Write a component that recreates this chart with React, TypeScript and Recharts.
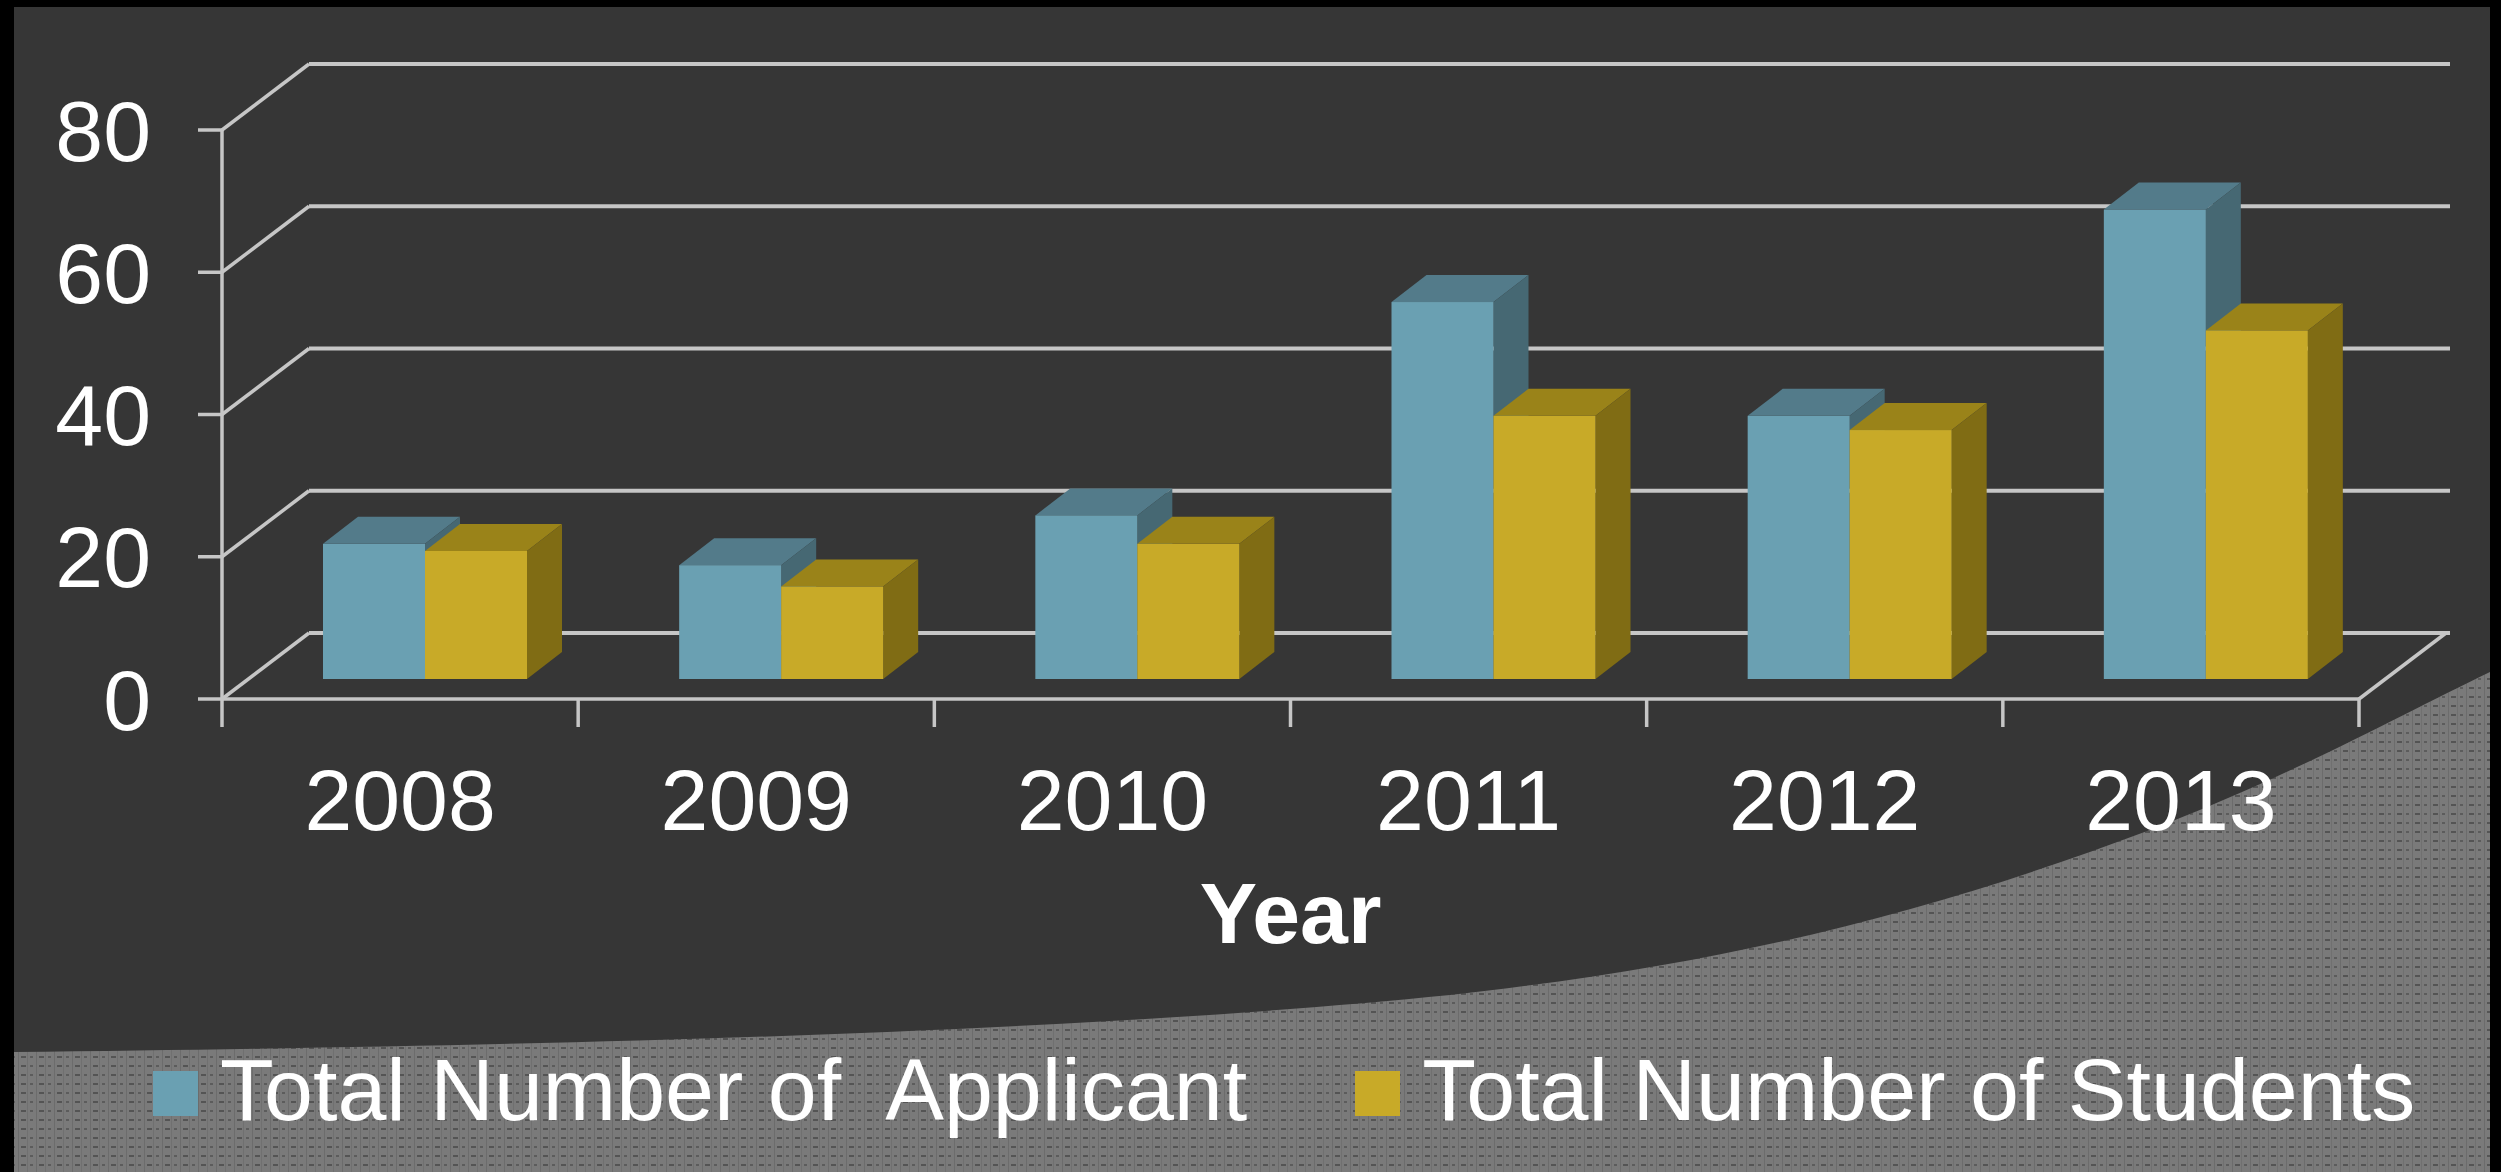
import React from 'react';
import { BarChart, Bar, XAxis, YAxis, CartesianGrid, Legend } from 'recharts';

// ---- data ----
const years = ['2008', '2009', '2010', '2011', '2012', '2013'];
const applicants = [19, 16, 23, 53, 37, 66];
const students = [18, 13, 19, 37, 35, 49];
const yTicks = [0, 20, 40, 60, 80];
const seriesNames = ['Total Number of  Applicant', 'Total Number of Students'];
const xTitle = 'Year';

const data = years.map((year, i) => ({ year, applicant: applicants[i], students: students[i] }));

// ---- style ----
const W = 2501;
const H = 1172;
const FONT = '"Liberation Sans", Arial, Helvetica, sans-serif';
const GRID = '#c6c6c6';
const BLUE = '#6AA0B2';
const BLUE_TOP = '#537B8A';
const BLUE_SIDE = '#466873';
const GOLD = '#C8AA28';
const GOLD_TOP = '#9A8319';
const GOLD_SIDE = '#806C14';

const PLANE = { dx: 25, dy: -20 };
const BAR_DEPTH = { dx: 35, dy: -27 };
const WALL = { dx: 87, dy: -66 };

function make3DShape(top: string, side: string) {
  return (props: any) => {
    const { x, y, width, height, fill } = props;
    if (x == null || y == null || !width || height == null) return <g />;
    const fx = x + PLANE.dx;
    const fy = y + PLANE.dy;
    const { dx, dy } = BAR_DEPTH;
    return (
      <g>
        <polygon
          points={`${fx},${fy} ${fx + dx},${fy + dy} ${fx + width + dx},${fy + dy} ${fx + width},${fy}`}
          fill={top}
        />
        <polygon
          points={`${fx + width},${fy} ${fx + width + dx},${fy + dy} ${fx + width + dx},${fy + height + dy} ${fx + width},${fy + height}`}
          fill={side}
        />
        <rect x={fx} y={fy} width={width} height={height} fill={fill} />
      </g>
    );
  };
}

const gridLine = (props: any) => {
  const { x1, y1, x2 } = props;
  return (
    <g key={`grid-${y1}`}>
      <line x1={x1} y1={y1} x2={x1 + WALL.dx} y2={y1 + WALL.dy} stroke={GRID} strokeWidth={3.5} />
      <line
        x1={x1 + WALL.dx}
        y1={y1 + WALL.dy}
        x2={x2 + WALL.dx + 4}
        y2={y1 + WALL.dy}
        stroke={GRID}
        strokeWidth={4}
      />
    </g>
  );
};

const XTick = (props: any) => {
  const { x, y, payload, index, visibleTicksCount, width } = props;
  let bw = 356;
  if (payload && payload.offset) bw = payload.offset * 2;
  else if (width && visibleTicksCount) bw = width / visibleTicksCount;
  const left = x - bw / 2;
  const right = x + bw / 2;
  const last = index === visibleTicksCount - 1;
  return (
    <g>
      <line x1={left} y1={y} x2={left} y2={y + 28} stroke={GRID} strokeWidth={3.5} />
      {last && <line x1={right} y1={y} x2={right} y2={y + 28} stroke={GRID} strokeWidth={3.5} />}
      {last && (
        <line x1={right} y1={y} x2={right + WALL.dx} y2={y + WALL.dy} stroke={GRID} strokeWidth={3.5} />
      )}
      <text x={x} y={y + 131} textAnchor="middle" fill="#ffffff" fontSize={86} fontFamily={FONT}>
        {payload.value}
      </text>
    </g>
  );
};

const renderLegend = (props: any) => {
  const { payload } = props;
  return (
    <div style={{ display: 'flex', alignItems: 'flex-start', fontFamily: FONT }}>
      {(payload || []).map((entry: any, i: number) => (
        <div key={i} style={{ display: 'flex', alignItems: 'flex-start', marginRight: 108 }}>
          <div style={{ width: 45, height: 45, marginTop: 25, background: entry.color, marginRight: 22 }} />
          <div
            style={{
              color: '#ffffff',
              fontSize: 88,
              lineHeight: '88px',
              height: 88,
              whiteSpace: 'pre',
            }}
          >
            {entry.value}
          </div>
        </div>
      ))}
    </div>
  );
};

export default function App() {
  return (
    <div style={{ position: 'absolute', left: 0, top: 0, width: W, height: H, overflow: 'hidden' }}>
      <svg width={W} height={H} style={{ position: 'absolute', left: 0, top: 0 }}>
        <defs>
          <pattern id="dots" width="18" height="9" patternUnits="userSpaceOnUse">
            <rect width="18" height="9" fill="#7a7a7a" />
            <rect x="0" y="0" width="1" height="9" fill="#6c6c6c" />
            <rect x="9" y="0" width="1" height="9" fill="#707070" />
            <rect x="3" y="3" width="5" height="2" fill="#545454" />
            <rect x="12" y="3" width="3" height="2" fill="#5c5c5c" />
          </pattern>
        </defs>
        <rect x={0} y={0} width={W} height={H} fill="#000000" />
        <rect x={14} y={7} width={2490 - 14} height={H - 7} fill="#363636" />
        <path
          d="M14,1052 C640,1045 1100,1030 1450,995 C1750,962 1950,905 2150,830 C2300,772 2400,715 2490,672 L2490,1172 L14,1172 Z"
          fill="url(#dots)"
        />
      </svg>
      <div style={{ position: 'absolute', left: 0, top: 0 }}>
        <BarChart
          width={W}
          height={H}
          data={data}
          margin={{ top: 130, right: 142, bottom: 223, left: 0 }}
          barGap={0}
        >
          <CartesianGrid horizontal={gridLine} vertical={false} />
          <XAxis
            dataKey="year"
            height={250}
            interval={0}
            tickSize={0}
            tickMargin={0}
            tickLine={false}
            axisLine={{ stroke: GRID, strokeWidth: 3.5 }}
            tick={<XTick />}
            label={{
              value: xTitle,
              position: 'insideBottom',
              offset: 6,
              fill: '#ffffff',
              fontSize: 86,
              fontWeight: 'bold',
              fontFamily: FONT,
            }}
          />
          <YAxis
            domain={[0, 80]}
            ticks={yTicks}
            interval={0}
            width={222}
            tickSize={24}
            tickMargin={47}
            tick={{ fill: '#ffffff', fontSize: 86, fontFamily: FONT }}
            axisLine={{ stroke: GRID, strokeWidth: 3.5 }}
            tickLine={{ stroke: GRID, strokeWidth: 3.5 }}
          />
          <Legend
            layout="horizontal"
            verticalAlign="middle"
            align="center"
            wrapperStyle={{ left: 153, top: 1046, width: 2330, height: 90 }}
            content={renderLegend}
          />
          <Bar
            dataKey="applicant"
            name={seriesNames[0]}
            fill={BLUE}
            barSize={102}
            shape={make3DShape(BLUE_TOP, BLUE_SIDE)}
            isAnimationActive={false}
          />
          <Bar
            dataKey="students"
            name={seriesNames[1]}
            fill={GOLD}
            barSize={102}
            shape={make3DShape(GOLD_TOP, GOLD_SIDE)}
            isAnimationActive={false}
          />
        </BarChart>
      </div>
    </div>
  );
}
